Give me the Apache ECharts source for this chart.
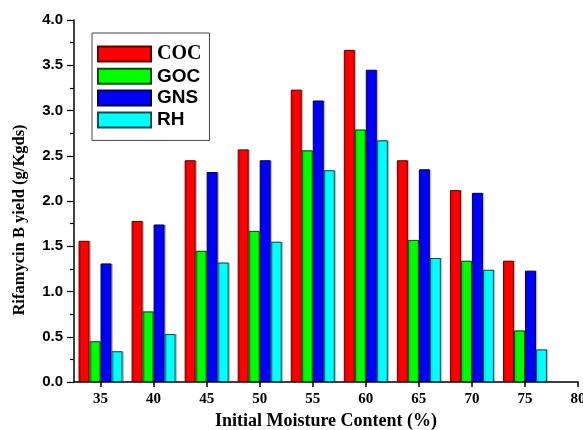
<!DOCTYPE html>
<html>
<head>
<meta charset="utf-8">
<script src="https://cdn.jsdelivr.net/npm/echarts@6/dist/echarts.min.js"></script>
<style>
html,body{margin:0;padding:0;background:#fff;}
#c{width:583px;height:430px;}
</style>
</head>
<body>
<div id="c"></div>
<script>
const moisture = [35, 40, 45, 50, 55, 60, 65, 70, 75];
const xTicks = [35, 40, 45, 50, 55, 60, 65, 70, 75, 80];
const cocYield = [1.56, 1.78, 2.45, 2.57, 3.23, 3.67, 2.45, 2.12, 1.34];
const gocYield = [0.45, 0.78, 1.45, 1.67, 2.56, 2.79, 1.57, 1.34, 0.57];
const gnsYield = [1.31, 1.74, 2.32, 2.45, 3.11, 3.45, 2.35, 2.09, 1.23];
const rhYield  = [0.34, 0.53, 1.32, 1.55, 2.34, 2.67, 1.37, 1.24, 0.36];
const seriesNames = ['COC', 'GOC', 'GNS', 'RH'];

const colors = ['#ff0000', '#00ff00', '#0000ff', '#00ffff'];
const borders = ['#600000', '#005000', '#000050', '#005050'];
const allData = [cocYield, gocYield, gnsYield, rhYield];

const chart = echarts.init(document.getElementById('c'), null, {renderer: 'canvas'});
const serif = '"Liberation Serif", "Times New Roman", serif';
const sans = '"Liberation Sans", Arial, sans-serif';

chart.setOption({
  animation: false,
  backgroundColor: '#ffffff',
  grid: {left: 74, right: 5, top: 20, bottom: 48, containLabel: false, outerBoundsMode: 'none'},
  legend: {
    orient: 'vertical',
    left: 92, top: 33,
    padding: [11, 8, 11, 5],
    itemWidth: 53, itemHeight: 15,
    itemGap: 2.8,
    borderColor: '#444', borderWidth: 1,
    icon: 'rect',
    data: seriesNames,
    textStyle: {
      fontSize: 19, fontWeight: 'bold', fontFamily: sans, color: '#000',
      padding: [0, 0, 0, 1],
      rich: {
        s: {fontFamily: serif, fontSize: 20, fontWeight: 'bold', color: '#000'},
        a: {fontFamily: sans, fontSize: 19, fontWeight: 'bold', color: '#000'}
      }
    },
    formatter: function (n) { return n === 'COC' ? '{s|' + n + '}' : '{a|' + n + '}'; }
  },
  xAxis: {
    type: 'value',
    min: 32.5, max: 80, interval: 2.5,
    name: 'Initial Moisture Content (%)',
    nameLocation: 'middle',
    nameGap: 29,
    nameTextStyle: {fontFamily: serif, fontWeight: 'bold', fontSize: 18, color: '#000'},
    axisLine: {lineStyle: {color: '#000', width: 1.5}},
    axisTick: {show: true, length: 5, lineStyle: {color: '#000', width: 1.5}, customValues: xTicks},
    axisLabel: {
      customValues: xTicks,
      fontFamily: serif, fontWeight: 'bold', fontSize: 15, color: '#000', margin: 10
    },
    splitLine: {show: false}
  },
  yAxis: {
    type: 'value',
    min: 0, max: 4, interval: 0.5,
    name: 'Rifamycin B yield (g/Kgds)',
    nameLocation: 'middle',
    nameGap: 46,
    nameTextStyle: {fontFamily: serif, fontWeight: 'bold', fontSize: 16.5, color: '#000', padding: [0, 38, 0, 0]},
    axisLine: {show: true, lineStyle: {color: '#000', width: 1.5}},
    axisTick: {show: true, length: 7, lineStyle: {color: '#000', width: 1.2}},
    minorTick: {show: true, splitNumber: 2, length: 4, lineStyle: {color: '#000', width: 1.2}},
    axisLabel: {
      fontFamily: sans, fontWeight: 'bold', fontSize: 15, color: '#000', margin: 11,
      formatter: v => v.toFixed(1)
    },
    splitLine: {show: false}
  },
  series: seriesNames.map((name, i) => ({
    name: name,
    type: 'bar',
    barWidth: 11,
    barGap: '0%',
    data: moisture.map((m, j) => [m, allData[i][j]]),
    itemStyle: {
      color: colors[i],
      borderColor: borders[i],
      borderWidth: 1,
      shadowColor: 'rgba(0,0,0,0.18)',
      shadowOffsetX: 1.5,
      shadowOffsetY: 0,
      shadowBlur: 0
    }
  }))
});
</script>
</body>
</html>
